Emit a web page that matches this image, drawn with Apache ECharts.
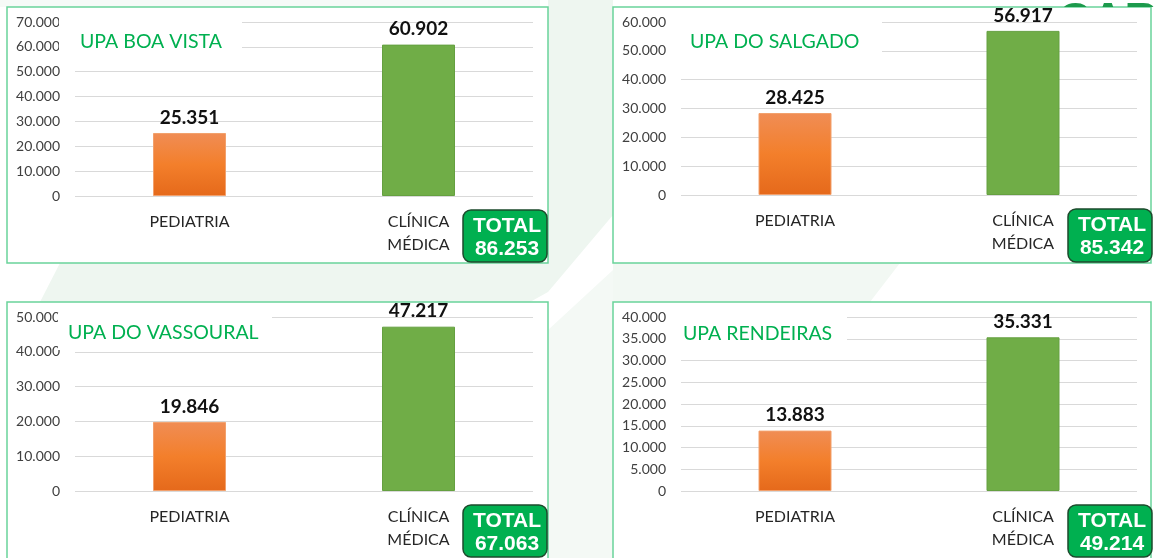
<!DOCTYPE html>
<html>
<head>
<meta charset="utf-8">
<script src="https://cdn.jsdelivr.net/npm/echarts@6/dist/echarts.min.js"></script>
<style>
  html, body { margin: 0; padding: 0; background: #ffffff; }
  #wrap { position: relative; width: 1154px; height: 558px; overflow: hidden; }
  #chart { position: absolute; left: 0; top: 0; width: 1154px; height: 558px; z-index: 1; }
  #mark { position: absolute; left: 1058px; top: 0; width: 96px; height: 7px; overflow: hidden; z-index: 2; }
  #mark span { position: relative; top: -4px; display: block; white-space: nowrap;
    font: bold 46px/46px "Liberation Sans", Arial, sans-serif; color: #1c9a4c; }
</style>
</head>
<body>
<div id="wrap"><div id="chart"></div><div id="mark"><span id="markText"></span></div></div>
<script>
// ---- data ----
const panelTitles = ["UPA BOA VISTA", "UPA DO SALGADO", "UPA DO VASSOURAL", "UPA RENDEIRAS"];
const categories = ["PEDIATRIA", "CLÍNICA\nMÉDICA"];
const pediatria = [25351, 28425, 19846, 13883];
const clinicaMedica = [60902, 56917, 47217, 35331];
const axisMax = [70000, 60000, 50000, 40000];
const axisInterval = [10000, 10000, 10000, 5000];
const totalLabel = "TOTAL";
const watermarkText = "CARUARU";

// ---- layout (positions only) ----
const grids = [
  { left: 75, top: 22, width: 458, height: 174 },
  { left: 681, top: 22, width: 456, height: 173 },
  { left: 75, top: 317, width: 458, height: 174 },
  { left: 681, top: 317, width: 456, height: 174 }
];
const panelBoxes = [
  { x: 7, y: 7, w: 541, h: 256 },
  { x: 613, y: 7, w: 538, h: 256 },
  { x: 7, y: 302, w: 541, h: 262 },
  { x: 613, y: 302, w: 538, h: 262 }
];
const titleBoxes = [
  { x: 59, y: 17, w: 183, h: 34, tx: 80, ty: 42 },
  { x: 670, y: 17, w: 212, h: 38, tx: 690, ty: 42 },
  { x: 58, y: 313, w: 214, h: 37, tx: 68, ty: 333 },
  { x: 670, y: 313, w: 177, h: 30, tx: 683, ty: 334 }
];
const totalBoxes = [
  { x: 463, y: 210, w: 84, h: 52 },
  { x: 1068, y: 209, w: 84, h: 53 },
  { x: 463, y: 505, w: 84, h: 52 },
  { x: 1068, y: 505, w: 84, h: 52 }
];

document.getElementById('markText').textContent = watermarkText;

const fmt = n => String(n).replace(/\B(?=(\d{3})+(?!\d))/g, '.');

const orange = new echarts.graphic.LinearGradient(0, 0, 0, 1, [
  { offset: 0, color: '#f08d55' },
  { offset: 0.5, color: '#f37f2b' },
  { offset: 1, color: '#e5691b' }
]);
const green = '#70ad47';

const chart = echarts.init(document.getElementById('chart'), null, { renderer: 'canvas' });
const xAxes = [], yAxes = [], series = [], graphics = [];

// faint background tints, only in the gaps between panels
const tint = '#eef6f0';
graphics.push(
  { type: 'polygon', z: -5, shape: { points: [[548, 0], [613, 0], [613, 215], [548, 292]] }, style: { fill: tint } },
  { type: 'polygon', z: -5, shape: { points: [[60, 263], [548, 263], [548, 292], [530, 302], [250, 302], [40, 302]] }, style: { fill: tint } },
  { type: 'polygon', z: -5, shape: { points: [[613, 263], [900, 263], [870, 302], [613, 302]] }, style: { fill: '#f2f8f3' } },
  { type: 'polygon', z: -5, shape: { points: [[548, 330], [613, 270], [613, 558], [548, 558]] }, style: { fill: '#f4f9f5' } },
  { type: 'polygon', z: -5, shape: { points: [[0, 0], [540, 0], [540, 7], [0, 7]] }, style: { fill: '#f6faf7' } }
);

panelTitles.forEach((title, i) => {
  xAxes.push({
    type: 'category', gridIndex: i, data: categories,
    axisLine: { show: false }, axisTick: { show: false },
    axisLabel: { color: '#262626', fontFamily: 'Lato', fontSize: 16, lineHeight: 23, margin: 14 }
  });
  yAxes.push({
    type: 'value', gridIndex: i, min: 0, max: axisMax[i], interval: axisInterval[i],
    axisLine: { show: false }, axisTick: { show: false },
    splitLine: { lineStyle: { color: '#d9d9d9', width: 1 } },
    axisLabel: { color: '#404040', fontFamily: 'Lato', fontSize: 14, margin: 15, formatter: v => v === 0 ? '0' : fmt(v) }
  });
  series.push({
    type: 'bar', xAxisIndex: i, yAxisIndex: i, barWidth: 73,
    data: [
      { value: pediatria[i], itemStyle: { color: orange, borderColor: '#f2a06c', borderWidth: 1 } },
      { value: clinicaMedica[i], itemStyle: { color: green, borderColor: '#65a040', borderWidth: 1 } }
    ],
    label: {
      show: true, position: 'top', distance: 6,
      color: '#111', fontFamily: 'Lato', fontWeight: 'bold', fontSize: 19,
      formatter: p => fmt(p.value)
    }
  });

  const pb = panelBoxes[i];
  graphics.push({
    type: 'rect', z: -1,
    shape: { x: pb.x, y: pb.y, width: pb.w, height: pb.h },
    style: { fill: '#ffffff', stroke: '#6ad39a', lineWidth: 1.5 }
  });
  const tb = titleBoxes[i];
  graphics.push({
    type: 'rect', z: 10,
    shape: { x: tb.x, y: tb.y, width: tb.w, height: tb.h },
    style: { fill: '#ffffff' }
  });
  graphics.push({
    type: 'text', z: 11,
    style: { text: title, x: tb.tx, y: tb.ty, fill: '#00b050', font: '19.5px Lato', verticalAlign: 'middle', textVerticalAlign: 'middle' }
  });
  const bb = totalBoxes[i];
  const total = pediatria[i] + clinicaMedica[i];
  graphics.push({
    type: 'rect', z: 10,
    shape: { x: bb.x, y: bb.y, width: bb.w, height: bb.h, r: 8 },
    style: { fill: '#00b050', stroke: '#1d4a2c', lineWidth: 1.5 }
  });
  graphics.push({
    type: 'text', z: 11,
    style: { text: totalLabel, x: bb.x + bb.w / 2 + 2, y: bb.y + 16, fill: '#fff', font: 'bold 21px "Liberation Sans", Arial, sans-serif', align: 'center', textAlign: 'center', verticalAlign: 'middle', textVerticalAlign: 'middle' }
  });
  graphics.push({
    type: 'text', z: 11,
    style: { text: fmt(total), x: bb.x + bb.w / 2 + 2, y: bb.y + 39, fill: '#fff', font: 'bold 21px "Liberation Sans", Arial, sans-serif', align: 'center', textAlign: 'center', verticalAlign: 'middle', textVerticalAlign: 'middle' }
  });
});

chart.setOption({
  animation: false,
  backgroundColor: 'transparent',
  grid: grids,
  xAxis: xAxes,
  yAxis: yAxes,
  series: series,
  graphic: { elements: graphics }
});
</script>
</body>
</html>
